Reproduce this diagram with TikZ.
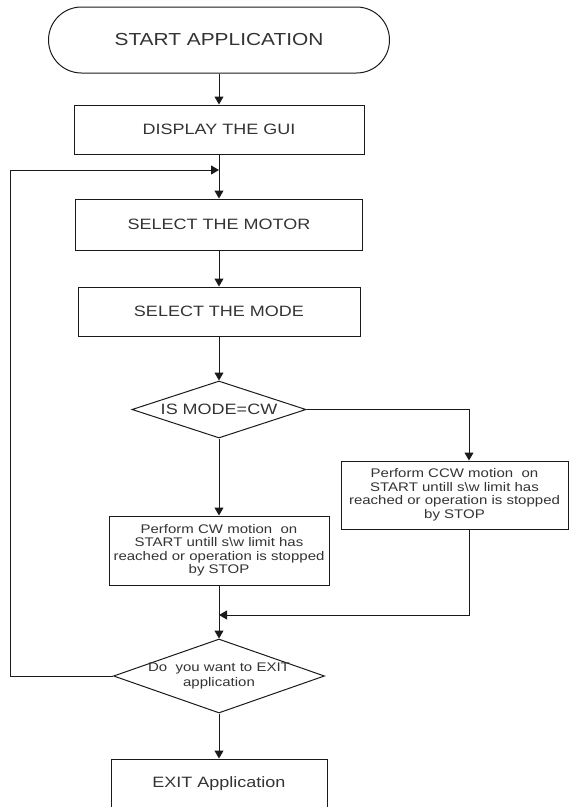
\documentclass[tikz,border=0pt]{standalone}
\usepackage{fontspec}
\setmainfont[FakeStretch=1.2]{Liberation Sans}
\usepackage{tikz}
\usetikzlibrary{arrows.meta,shapes.geometric}
\definecolor{FlowInk}{HTML}{1A1A1A}
\definecolor{FlowText}{HTML}{333333}

\begin{document}
\begin{tikzpicture}[x=1pt,y=-1pt]
  \path[use as bounding box] (0,0) rectangle (569,807);
  \clip (0,0) rectangle (569,807);

  \tikzset{
    flowBase/.style={
      draw=FlowInk,
      line width=1pt,
      text=FlowText,
      align=center,
      inner sep=0pt,
      font=\fontsize{15}{18}\selectfont
    },
    flowTerm/.style={
      flowBase,
      rounded corners=33pt,
      minimum width=341pt,
      minimum height=66pt,
      font=\fontsize{17.4}{20}\selectfont
    },
    flowBox/.style={
      flowBase,
      rectangle,
      minimum height=49pt
    },
    flowNote/.style={
      flowBase,
      rectangle,
      minimum height=68pt,
      font=\fontsize{12.5}{13.5}\selectfont
    },
    flowTest/.style={
      flowBase,
      diamond,
      aspect=3
    },
    flowArrow/.style={
      -{Triangle[length=8pt,width=9pt]},
      draw=FlowInk,
      line width=1pt
    }
  }

  % main column
  \node[flowTerm] (start) at (219,40) {START APPLICATION};
  \node[flowBox,minimum width=290pt] (gui) at (219,129.5) {DISPLAY THE GUI};
  \node[flowBox,minimum width=287pt,minimum height=51pt] (motor) at (219,224.5)
    {SELECT THE MOTOR};
  \node[flowBox,minimum width=282pt] (mode) at (219,311.5) {SELECT THE MODE};
  \node[flowTest,minimum width=174pt,minimum height=57pt] (cwtest) at (219,409.5)
    {IS MODE=CW};

  % the two motions
  \node[flowNote,minimum width=220pt,minimum height=69pt] (cw) at (219,550.5)
    {Perform CW motion\ \ on\\START untill s\textbackslash w limit has\\
     reached or operation is stopped\\by STOP};
  \node[flowNote,minimum width=227pt] (ccw) at (454.5,495)
    {Perform CCW motion\ \ on\\START untill s\textbackslash w limit has\\
     reached or operation is stopped\\by STOP};

  % leave or go round again
  \node[flowTest,aspect=2.85,inner xsep=-5pt,minimum width=211pt,minimum height=74pt,
    font=\fontsize{12.5}{14.5}\selectfont] (exittest) at (219,676)
    {Do\ \ you want to EXIT\\application};
  \node[flowBox,minimum width=216pt,minimum height=50pt] (exitapp) at (219,784)
    {EXIT Application};

  \coordinate (loopjoin)  at (219,170);
  \coordinate (loopleft)  at (10,170);
  \coordinate (mergejoin) at (219,615);

  \draw[flowArrow] (start.south)   -- (gui.north);
  \draw[flowArrow] (gui.south)     -- (motor.north);
  \draw[flowArrow] (motor.south)   -- (mode.north);
  \draw[flowArrow] (mode.south)    -- (cwtest.north);
  \draw[flowArrow] (cwtest.south)  -- (cw.north);
  \draw[flowArrow] (cwtest.east)   -| ([xshift=14.5pt]ccw.north);
  \draw[flowArrow] (cw.south)      -- (exittest.north);
  \draw[flowArrow] ([xshift=14.5pt]ccw.south) |- (mergejoin);
  \draw[flowArrow] (exittest.south) -- (exitapp.north);
  \draw[flowArrow] (exittest.west) -| (loopleft) -- (loopjoin);
\end{tikzpicture}
\end{document}
